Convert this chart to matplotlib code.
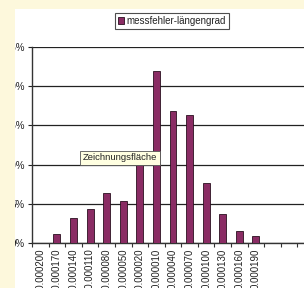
import numpy as np
import matplotlib
matplotlib.use("Agg")
import matplotlib.pyplot as plt
from matplotlib.patches import Rectangle

# categories (class midpoints of the measuring error) and relative frequencies in %
categories = ['-0.000200', '-0.000170', '-0.000140', '-0.000110', '-0.000080',
              '-0.000050', '-0.000020', '0.000010', '0.000040', '0.000070',
              '0.000100', '0.000130', '0.000160', '0.000190', '', '', '']
values = [0.0, 1.15, 3.2, 4.35, 6.4, 5.35, 9.95, 21.95, 16.85, 16.3,
          7.6, 3.7, 1.55, 0.9, 0.0, 0.0, 0.0]
yticks = [0, 5, 10, 15, 20, 25]
series_name = 'messfehler-längengrad'

plt.rcParams['font.family'] = ['Liberation Sans', 'DejaVu Sans']

W, H = 304, 288
fig = plt.figure(figsize=(W / 100, H / 100), dpi=100)
fig.patch.set_facecolor('white')

# plot area in pixel coords -> figure fraction
left, top, bottom, right = 32, 47, 243, 314
ax = fig.add_axes([left / W, (H - bottom) / H, (right - left) / W, (bottom - top) / H])

x = np.arange(len(categories))
ax.bar(x, values, width=0.42, color='#8a2c64', edgecolor='#2a1020', linewidth=0.6,
       zorder=3, label=series_name)

ax.set_xlim(-0.5, len(categories) - 0.5)
ax.set_ylim(0, 25)
ax.set_yticks(yticks)
ax.set_yticklabels([f'{v}%' for v in yticks], fontsize=7, color='#222222')
ax.yaxis.grid(True, color='#222222', linewidth=0.9, zorder=1)
ax.tick_params(axis='y', length=3, width=0.8, pad=2, colors='#222222')

ax.set_xticks(x)
ax.set_xticklabels(categories, rotation=90, fontsize=7, va='top', color='#222222')
ax.tick_params(axis='x', which='major', length=0, pad=4)
ax.set_xticks(np.arange(-0.5, len(categories)), minor=True)
ax.tick_params(axis='x', which='minor', length=3, width=0.8, colors='#333333')

for s in ['top', 'right']:
    ax.spines[s].set_visible(False)
ax.spines['left'].set_color('#333333')
ax.spines['left'].set_linewidth(1.0)
ax.spines['bottom'].set_color('#333333')
ax.spines['bottom'].set_linewidth(1.0)
ax.set_facecolor('white')

# legend box at the top
leg = fig.legend(loc='center', bbox_to_anchor=(172 / W, 1 - 21 / H), fontsize=7,
                 frameon=True, fancybox=False, edgecolor='#222222', handlelength=0.6,
                 handleheight=0.6, handletextpad=0.3, borderpad=0.3, borderaxespad=0)
leg.get_frame().set_linewidth(0.8)
for t in leg.get_texts():
    t.set_color('#222222')

# tooltip
fig.text(120 / W, 1 - 158 / H, 'Zeichnungsfläche', fontsize=6.8, ha='center', va='center',
         color='#222222', zorder=12,
         bbox=dict(boxstyle='square,pad=0.25', facecolor='#ffffe1', edgecolor='#555555',
                   linewidth=0.6))

# yellow frame around the white chart area
yellow = '#fdf8dc'
fig.add_artist(Rectangle((0, 0), 15 / W, 1, transform=fig.transFigure,
                         facecolor=yellow, edgecolor='none', zorder=10))
fig.add_artist(Rectangle((0, 1 - 9 / H), 1, 9 / H, transform=fig.transFigure,
                         facecolor=yellow, edgecolor='none', zorder=10))

fig.savefig('out.png', dpi=100, facecolor=fig.get_facecolor())
